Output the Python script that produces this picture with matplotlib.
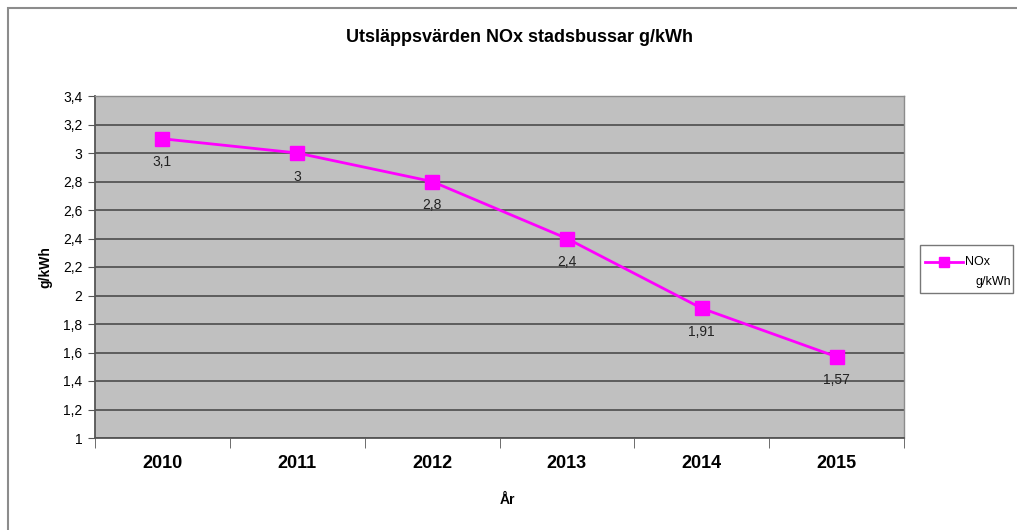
import matplotlib.pyplot as plt
from matplotlib.patches import Rectangle
from matplotlib.lines import Line2D

years = ['2010', '2011', '2012', '2013', '2014', '2015']
nox = [3.1, 3.0, 2.8, 2.4, 1.91, 1.57]
labels = ['3,1', '3', '2,8', '2,4', '1,91', '1,57']
yticks = [1, 1.2, 1.4, 1.6, 1.8, 2, 2.2, 2.4, 2.6, 2.8, 3, 3.2, 3.4]
ytick_labels = ['1', '1,2', '1,4', '1,6', '1,8', '2', '2,2', '2,4', '2,6', '2,8', '3', '3,2', '3,4']

plt.rcParams['font.family'] = ['Liberation Sans', 'DejaVu Sans']
magenta = '#FF00FF'

fig = plt.figure(figsize=(10.17, 5.3), dpi=100)
W, H = 1017, 530

# chart border (runs off the right and bottom edges)
fig.patches.append(Rectangle((8 / W, -0.1), 1.2, 1 - 8 / H + 0.1, transform=fig.transFigure,
                             fill=False, edgecolor='#8c8c8c', linewidth=1.5))

ax = fig.add_axes([95 / W, (H - 438) / H, (904 - 95) / W, (438 - 96) / H])
ax.set_facecolor('#C0C0C0')

x = list(range(len(years)))
ax.plot(x, nox, color=magenta, linewidth=2, marker='s', markersize=9.5, zorder=3)
for xi, yi, lab in zip(x, nox, labels):
    ax.annotate(lab, (xi, yi), xytext=(0, -17), textcoords='offset points',
                ha='center', va='center', fontsize=10, color='#222222')

ax.set_xlim(-0.5, len(years) - 0.5)
ax.set_ylim(1, 3.4)
ax.set_yticks(yticks)
ax.set_yticklabels(ytick_labels, fontsize=10)
ax.set_xticks(x)
ax.set_xticklabels(years, fontsize=13, fontweight='bold')
ax.set_xticks([i - 0.5 for i in range(len(years) + 1)], minor=True)
ax.tick_params(axis='x', which='major', length=0, pad=12)
ax.tick_params(axis='x', which='minor', length=7, color='#555555')
ax.tick_params(axis='y', length=5, color='#555555', pad=4)
ax.grid(axis='y', color='#555555', linewidth=1.3)
ax.set_axisbelow(True)
for side in ['left', 'bottom']:
    ax.spines[side].set_color('#555555')
    ax.spines[side].set_linewidth(1.3)
for side in ['top', 'right']:
    ax.spines[side].set_color('#8c8c8c')
    ax.spines[side].set_linewidth(1)

fig.text(519 / W, 1 - 38 / H, 'Utsläppsvärden NOx stadsbussar g/kWh', ha='center', va='center',
         fontsize=13, fontweight='bold')
fig.text(45 / W, 1 - 267 / H, 'g/kWh', rotation=90, ha='center', va='center',
         fontsize=10, fontweight='bold')
fig.text(507 / W, 1 - 500 / H, 'År', ha='center', va='center', fontsize=10, fontweight='bold')

# legend
fig.patches.append(Rectangle((920 / W, 1 - 293 / H), 93 / W, 48 / H, transform=fig.transFigure,
                             fill=False, edgecolor='#777777', linewidth=1))
fig.lines.append(Line2D([925 / W, 944 / W, 963 / W], [1 - 262 / H] * 3, transform=fig.transFigure,
                        color=magenta, linewidth=2, marker='s', markersize=7, markevery=[1]))
fig.text(965 / W, 1 - 262 / H, 'NOx', ha='left', va='center', fontsize=9)
fig.text(1011 / W, 1 - 282 / H, 'g/kWh', ha='right', va='center', fontsize=9)

fig.savefig('out.png', dpi=100)
